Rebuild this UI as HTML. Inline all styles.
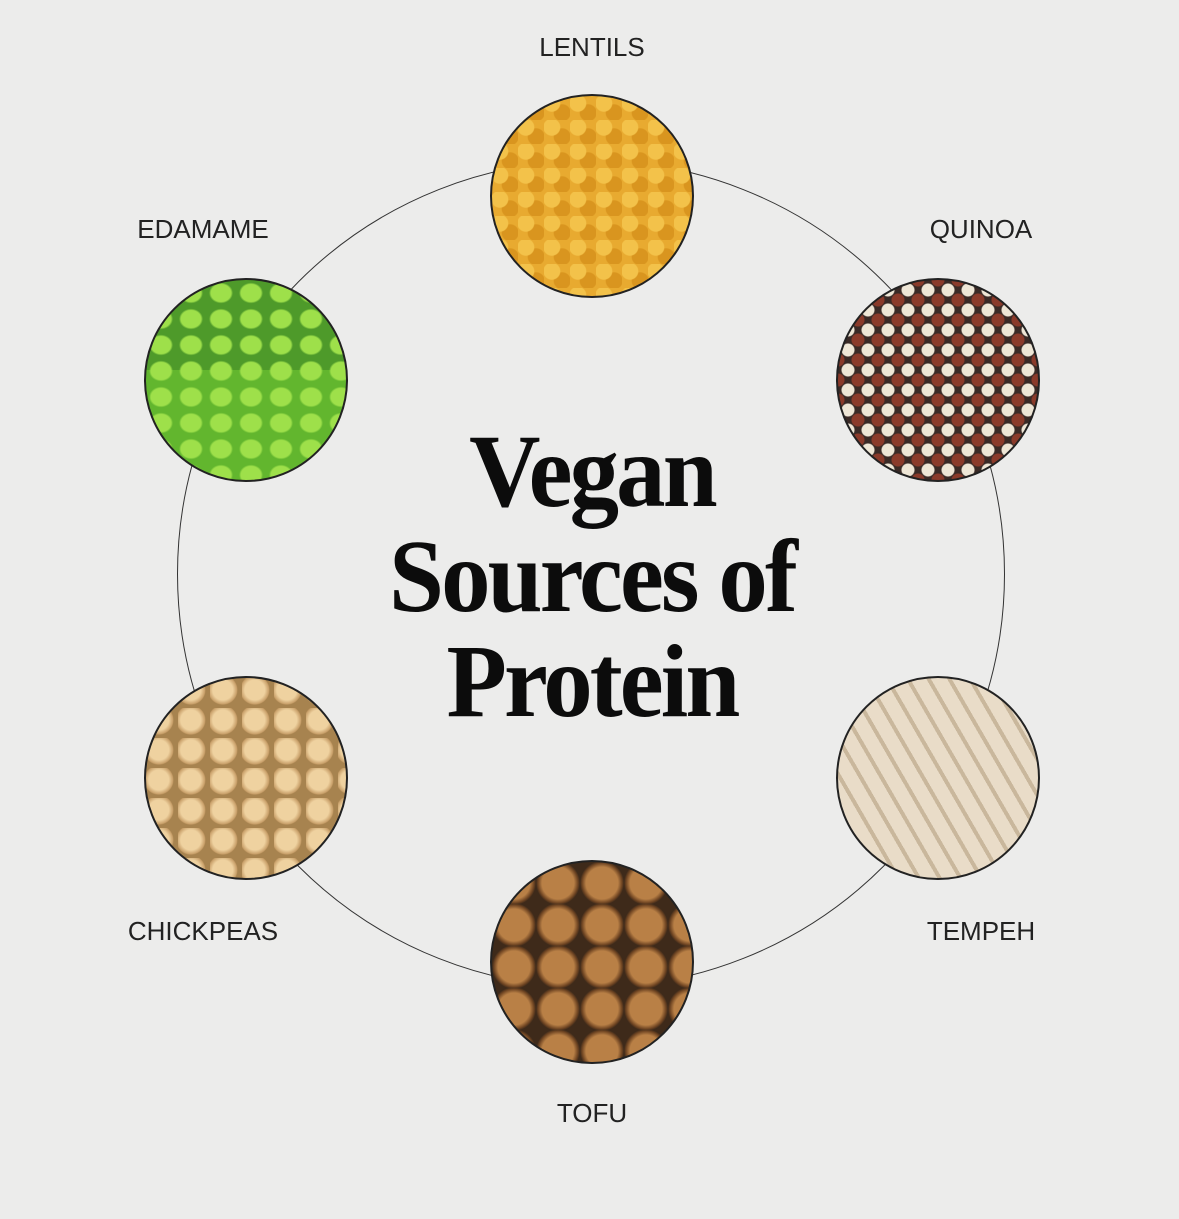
<!DOCTYPE html>
<html><head><meta charset="utf-8"><style>
html,body{margin:0;padding:0}
body{width:1179px;height:1219px;background:#ececeb;position:relative;overflow:hidden;font-family:"Liberation Sans",sans-serif}
.ring{position:absolute;left:177px;top:160px;width:828px;height:828px;border:1.5px solid #333;border-radius:50%;box-sizing:border-box}
.food{position:absolute;width:204px;height:204px;border-radius:50%;border:2px solid #222;box-sizing:border-box;overflow:hidden}
.lbl{position:absolute;font-size:26px;color:#222;transform:translateX(-50%);white-space:nowrap}
.t{position:absolute;left:592px;font-family:"Liberation Serif",serif;font-weight:bold;font-size:104px;color:#0c0c0c;white-space:nowrap;transform:translateX(-50%) scaleX(0.95);letter-spacing:-3px;line-height:1}
</style></head><body>
<div class="ring"></div>
<div class="lbl" style="left:592px;top:32px">LENTILS</div>
<div class="lbl" style="left:203px;top:214px">EDAMAME</div>
<div class="lbl" style="left:981px;top:214px">QUINOA</div>
<div class="lbl" style="left:203px;top:916px">CHICKPEAS</div>
<div class="lbl" style="left:981px;top:916px">TEMPEH</div>
<div class="lbl" style="left:592px;top:1098px">TOFU</div>

<div class="food" style="left:490px;top:94px;background:radial-gradient(circle at 30% 30%,#f3c24a 0 8px,transparent 9px) 0 0/26px 24px,radial-gradient(circle at 70% 70%,#d9951f 0 8px,transparent 9px) 0 0/26px 24px,#e8aa30"></div>
<div class="food" style="left:144px;top:278px;background:radial-gradient(ellipse at 50% 50%,#9ee04a 0 10px,transparent 12px) 0 0/30px 26px,linear-gradient(#4e9a2a 0 45%,#62b62e 45%)"></div>
<div class="food" style="left:836px;top:278px;background:radial-gradient(circle,#eee6d6 0 6px,transparent 7px) 0 0/20px 20px,radial-gradient(circle,#8a3a2a 0 6px,transparent 7px) 10px 10px/20px 20px,#3a2a26"></div>
<div class="food" style="left:144px;top:676px;background:radial-gradient(circle at 40% 40%,#efd2a0 0 10px,#c9a06a 14px,transparent 15px) 0 0/32px 30px,#a7834f"></div>
<div class="food" style="left:836px;top:676px;background:repeating-linear-gradient(60deg,#e9dcc8 0 14px,#c9b79c 14px 18px),#ddd"></div>
<div class="food" style="left:490px;top:860px;background:radial-gradient(circle at 50% 50%,#b98046 0 16px,#6e4422 20px,transparent 22px) 0 0/44px 42px,#3e2a1a"></div>

<div class="t" style="top:420px">Vegan</div>
<div class="t" style="top:525px">Sources of</div>
<div class="t" style="top:630px">Protein</div>
</body></html>
